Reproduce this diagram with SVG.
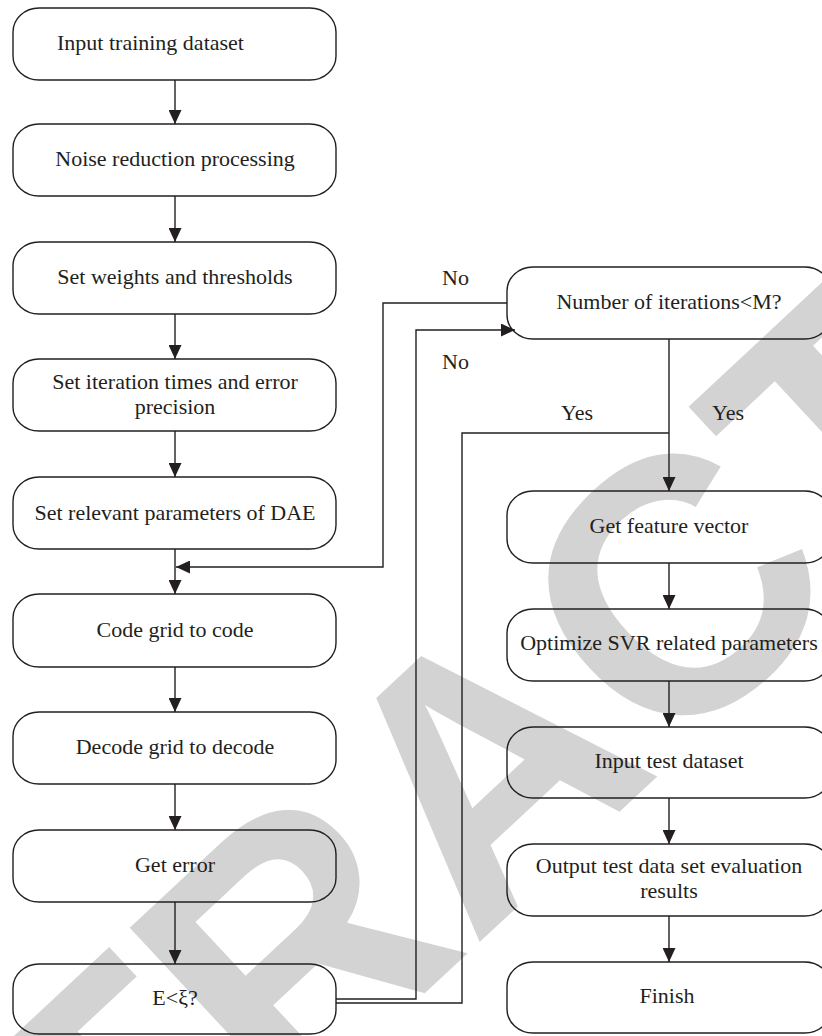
<svg xmlns="http://www.w3.org/2000/svg" width="822" height="1036" viewBox="0 0 822 1036">
<style>
.box{fill:none;stroke:#231f20;stroke-width:1.4}
.t{font-family:"Liberation Serif","Times New Roman",serif;font-size:22px;fill:#231f20;text-anchor:middle}
.ts{font-family:"Liberation Serif","Times New Roman",serif;font-size:22px;fill:#231f20}
.c{fill:none;stroke:#231f20;stroke-width:1.4}
.wm{font-family:"Liberation Sans",Arial,sans-serif;font-weight:bold;font-size:362px;fill:#d3d3d3;text-anchor:middle}
</style>
<defs>
<marker id="ah" markerUnits="userSpaceOnUse" markerWidth="14" markerHeight="13" viewBox="0 0 14 13" refX="14" refY="6.5" orient="auto">
<path d="M0,0 L14,6.5 L0,13 z" fill="#231f20"/>
</marker>
</defs>
<rect width="822" height="1036" fill="#ffffff"/>
<g id="watermark" transform="translate(480,764) rotate(-43)">
<text class="wm" x="0" y="130">RETRACTED</text>
</g>
<g id="connectors">
<line class="c" x1="175" y1="80" x2="175" y2="124" marker-end="url(#ah)"/>
<line class="c" x1="175" y1="196" x2="175" y2="242" marker-end="url(#ah)"/>
<line class="c" x1="175" y1="314" x2="175" y2="359" marker-end="url(#ah)"/>
<line class="c" x1="175" y1="431" x2="175" y2="477" marker-end="url(#ah)"/>
<line class="c" x1="175" y1="549" x2="175" y2="594" marker-end="url(#ah)"/>
<line class="c" x1="175" y1="667" x2="175" y2="712" marker-end="url(#ah)"/>
<line class="c" x1="175" y1="784" x2="175" y2="830" marker-end="url(#ah)"/>
<line class="c" x1="175" y1="902" x2="175" y2="964" marker-end="url(#ah)"/>
<line class="c" x1="669" y1="339" x2="669" y2="491" marker-end="url(#ah)"/>
<line class="c" x1="669" y1="563" x2="669" y2="609" marker-end="url(#ah)"/>
<line class="c" x1="669" y1="681" x2="669" y2="727" marker-end="url(#ah)"/>
<line class="c" x1="669" y1="798" x2="669" y2="844" marker-end="url(#ah)"/>
<line class="c" x1="669" y1="916" x2="669" y2="962" marker-end="url(#ah)"/>
<polyline class="c" points="507,303 383,303 383,567 176,567" marker-end="url(#ah)"/>
<polyline class="c" points="336,999 416,999 416,330 515,330" marker-end="url(#ah)"/>
<polyline class="c" points="336,1003 462,1003 462,433 669,433"/>
<text class="ts" x="442" y="285">No</text>
<text class="ts" x="442" y="369">No</text>
<text class="ts" x="561" y="420">Yes</text>
<text class="ts" x="712" y="420">Yes</text>
</g>
<g id="n1"><rect class="box" x="13" y="8" width="323" height="72" rx="26" ry="24"/><text class="ts" x="57" y="50">Input training dataset</text></g>
<g id="n2"><rect class="box" x="13" y="124" width="323" height="72" rx="26" ry="24"/><text class="t" x="175" y="166">Noise reduction processing</text></g>
<g id="n3"><rect class="box" x="13" y="242" width="323" height="72" rx="26" ry="24"/><text class="t" x="175" y="284">Set weights and thresholds</text></g>
<g id="n4"><rect class="box" x="13" y="359" width="323" height="72" rx="26" ry="24"/><text class="t" x="175" y="389">Set iteration times and error</text><text class="t" x="175" y="414">precision</text></g>
<g id="n5"><rect class="box" x="13" y="477" width="323" height="72" rx="26" ry="24"/><text class="t" x="175" y="520">Set relevant parameters of DAE</text></g>
<g id="n6"><rect class="box" x="13" y="594" width="323" height="73" rx="26" ry="24"/><text class="t" x="175" y="637">Code grid to code</text></g>
<g id="n7"><rect class="box" x="13" y="712" width="323" height="72" rx="26" ry="24"/><text class="t" x="175" y="754">Decode grid to decode</text></g>
<g id="n8"><rect class="box" x="13" y="830" width="323" height="72" rx="26" ry="24"/><text class="t" x="175" y="872">Get error</text></g>
<g id="n9"><rect class="box" x="13" y="964" width="323" height="70" rx="26" ry="24"/><text class="t" x="175" y="1005">E&lt;ξ?</text></g>
<g id="n10"><rect class="box" x="507" y="267" width="324" height="72" rx="26" ry="24"/><text class="t" x="669" y="309">Number of iterations&lt;M?</text></g>
<g id="n11"><rect class="box" x="507" y="491" width="324" height="72" rx="26" ry="24"/><text class="t" x="669" y="533">Get feature vector</text></g>
<g id="n12"><rect class="box" x="507" y="609" width="324" height="72" rx="26" ry="24"/><text class="t" x="669" y="650">Optimize SVR related parameters</text></g>
<g id="n13"><rect class="box" x="507" y="727" width="324" height="71" rx="26" ry="24"/><text class="t" x="669" y="768">Input test dataset</text></g>
<g id="n14"><rect class="box" x="507" y="844" width="324" height="72" rx="26" ry="24"/><text class="t" x="669" y="873">Output test data set evaluation</text><text class="t" x="669" y="898">results</text></g>
<g id="n15"><rect class="box" x="507" y="962" width="324" height="71" rx="26" ry="24"/><text class="t" x="667" y="1003">Finish</text></g>
</svg>
